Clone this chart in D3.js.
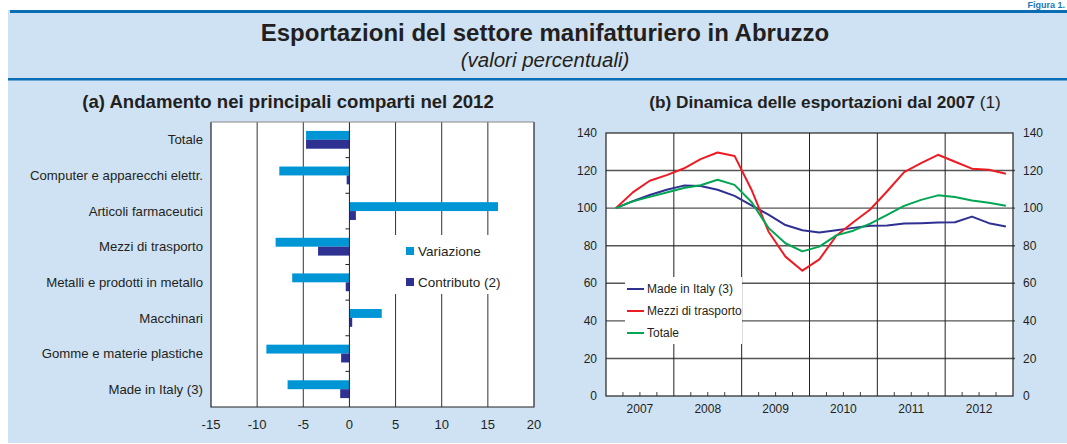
<!DOCTYPE html>
<html><head><meta charset="utf-8">
<script src="https://cdn.jsdelivr.net/npm/d3@7"></script>
<style>body{margin:0;background:#fff}svg{display:block;font-family:"Liberation Sans",Arial,sans-serif}</style>
</head><body><svg id="c" width="1067" height="444"></svg>
<script>
// ---- Data: panel (a) ----
const categories = ["Totale","Computer e apparecchi elettr.","Articoli farmaceutici","Mezzi di trasporto","Metalli e prodotti in metallo","Macchinari","Gomme e materie plastiche","Made in Italy (3)"];
const variazione = [-4.7,-7.6,16.1,-8.0,-6.2,3.5,-9.0,-6.7];
const contributo = [-4.7,-0.3,0.7,-3.4,-0.4,0.3,-0.9,-1.0];
const xTicksA = [-15,-10,-5,0,5,10,15,20];
// ---- Data: panel (b), quarterly 2007Q1-2012Q4 ----
const years = ["2007","2008","2009","2010","2011","2012"];
const madeInItaly = [100,103.7,107,109.8,112,111.8,109.8,106.5,101.5,96.5,91,88.2,87,88.2,89.5,90.6,90.8,91.8,92,92.3,92.5,95.5,92,90.2];
const mezziTrasporto = [100,108.4,114.6,117.6,121.1,126.1,129.6,127.8,109.8,87.6,74.2,66.7,72.7,85.3,92.5,99.3,109,119.2,124,128.4,124.7,121,120.4,118.3];
const totale = [100,103.6,106,108.3,110.7,112.2,115.1,112.4,103.3,89.5,81.3,77,79.5,85.5,88,91.8,96.4,101.2,104.4,106.8,105.9,104.1,102.9,101.3];
const yTicksB = [0,20,40,60,80,100,120,140];
const seriesB = [
  {name:"Made in Italy (3)", values: madeInItaly, color:"#2e3192"},
  {name:"Mezzi di trasporto", values: mezziTrasporto, color:"#ed1c24"},
  {name:"Totale", values: totale, color:"#00a651"}
];

const svg = d3.select("#c");
const txt = "#231f20";
const panel = "#cfe2f3";
const band = "#0b6db3";

// Frame
svg.append("text").attr("x",1065).attr("y",8).attr("text-anchor","end")
  .attr("font-weight","bold").attr("font-size",9).attr("fill","#1b75bb").text("Figura 1.");
svg.append("rect").attr("x",8).attr("y",10).attr("width",1059).attr("height",433).attr("fill",panel);
svg.append("rect").attr("x",10).attr("y",10).attr("width",1057).attr("height",3).attr("fill",band);
svg.append("rect").attr("x",8).attr("y",78).attr("width",1059).attr("height",2.5).attr("fill",band);
svg.append("text").attr("x",545).attr("y",41).attr("text-anchor","middle").attr("font-weight","bold")
  .attr("font-size",24).attr("fill",txt).text("Esportazioni del settore manifatturiero in Abruzzo");
svg.append("text").attr("x",545).attr("y",67).attr("text-anchor","middle").attr("font-style","italic")
  .attr("font-size",20.5).attr("fill",txt).text("(valori percentuali)");

// ---------- Panel (a) ----------
svg.append("text").attr("x",288).attr("y",108).attr("text-anchor","middle").attr("font-weight","bold")
  .attr("font-size",18.6).attr("fill",txt).text("(a) Andamento nei principali comparti nel 2012");

const A = {l:211,r:534,t:122,b:407};
const xA = d3.scaleLinear().domain([-15,20]).range([A.l,A.r]);
const yA = d3.scaleBand().domain(categories).range([A.t,A.b]);
const gA = svg.append("g");
gA.append("rect").attr("x",A.l).attr("y",A.t).attr("width",A.r-A.l).attr("height",A.b-A.t).attr("fill","#fff");
gA.selectAll(".vg").data(xTicksA.filter(d=>d!==0 && d>-15 && d<20)).join("line")
  .attr("x1",d=>xA(d)).attr("x2",d=>xA(d)).attr("y1",A.t).attr("y2",A.b)
  .attr("stroke","#333").attr("stroke-width",1);
// legend background covers gridlines
gA.append("rect").attr("x",352).attr("y",235).attr("width",A.r-352).attr("height",59).attr("fill","#fff");
const bh = yA.bandwidth()*0.25;
gA.selectAll(".bv").data(categories).join("rect")
  .attr("x",(d,i)=>xA(Math.min(0,variazione[i]))).attr("width",(d,i)=>Math.abs(xA(variazione[i])-xA(0)))
  .attr("y",d=>yA(d)+yA.bandwidth()/2-bh).attr("height",bh).attr("fill","#0096d6");
gA.selectAll(".bc").data(categories).join("rect")
  .attr("x",(d,i)=>xA(Math.min(0,contributo[i]))).attr("width",(d,i)=>Math.abs(xA(contributo[i])-xA(0)))
  .attr("y",d=>yA(d)+yA.bandwidth()/2).attr("height",bh).attr("fill","#2e3192");
// zero axis with ticks at category boundaries
gA.append("line").attr("x1",xA(0)).attr("x2",xA(0)).attr("y1",A.t).attr("y2",A.b).attr("stroke","#222").attr("stroke-width",1);
gA.selectAll(".zt").data(categories.slice(1)).join("line")
  .attr("x1",xA(0)-4).attr("x2",xA(0)).attr("y1",d=>yA(d)).attr("y2",d=>yA(d)).attr("stroke","#222");
// border
gA.append("path").attr("d",`M${A.l},${A.t}V${A.b}H${A.r}V${A.t}`).attr("fill","none").attr("stroke","#222").attr("stroke-width",1.2);
gA.append("line").attr("x1",A.l).attr("x2",A.r).attr("y1",A.t).attr("y2",A.t).attr("stroke","#888");
// labels
gA.selectAll(".xl").data(xTicksA).join("text").attr("x",d=>xA(d)).attr("y",429)
  .attr("text-anchor","middle").attr("font-size",13).attr("fill",txt).text(d=>d);
gA.selectAll(".cl").data(categories).join("text").attr("x",203).attr("y",d=>yA(d)+yA.bandwidth()/2)
  .attr("dy","0.35em").attr("text-anchor","end").attr("font-size",13.2).attr("fill",txt).text(d=>d);
// legend
const legA = [{n:"Variazione",c:"#0096d6",y:251},{n:"Contributo (2)",c:"#2e3192",y:282}];
legA.forEach(d=>{
  gA.append("rect").attr("x",406).attr("y",d.y-4).attr("width",8).attr("height",8).attr("fill",d.c);
  gA.append("text").attr("x",418).attr("y",d.y).attr("dy","0.35em").attr("font-size",13.5).attr("fill",txt).text(d.n);
});

// ---------- Panel (b) ----------
const tb = svg.append("text").attr("x",825).attr("y",108).attr("text-anchor","middle").attr("font-size",17.2).attr("fill",txt);
tb.append("tspan").attr("font-weight","bold").text("(b) Dinamica delle esportazioni dal 2007 ");
tb.append("tspan").text("(1)");

const B = {l:606,r:1013,t:133,b:396};
const nQ = years.length*4;
const xB = d3.scaleLinear().domain([0,nQ]).range([B.l,B.r]);
const yB = d3.scaleLinear().domain([0,140]).range([B.b,B.t]);
const gB = svg.append("g");
gB.append("rect").attr("x",B.l).attr("y",B.t).attr("width",B.r-B.l).attr("height",B.b-B.t).attr("fill","#fff");
gB.selectAll(".hg").data(yTicksB.filter(d=>d>0&&d<140)).join("line")
  .attr("x1",B.l).attr("x2",B.r+2).attr("y1",d=>yB(d)).attr("y2",d=>yB(d))
  .attr("stroke","#555").attr("stroke-width",1.4);
gB.selectAll(".yg").data(d3.range(1,years.length)).join("line")
  .attr("x1",d=>xB(d*4)).attr("x2",d=>xB(d*4)).attr("y1",B.t).attr("y2",B.b)
  .attr("stroke","#222").attr("stroke-width",1);
gB.selectAll(".qt").data(d3.range(1,nQ).filter(d=>d%4!==0)).join("line")
  .attr("x1",d=>xB(d)).attr("x2",d=>xB(d)).attr("y1",B.b).attr("y2",B.b-4)
  .attr("stroke","#444").attr("stroke-width",1);
// legend box
gB.append("rect").attr("x",625).attr("y",277).attr("width",117).attr("height",67).attr("fill","#fff");
const line = d3.line().x((d,i)=>xB(i+0.58)).y(d=>yB(d));
gB.selectAll(".ln").data(seriesB).join("path").attr("d",d=>line(d.values))
  .attr("fill","none").attr("stroke",d=>d.color).attr("stroke-width",2).attr("stroke-linejoin","round");
gB.append("rect").attr("x",B.l).attr("y",B.t).attr("width",B.r-B.l).attr("height",B.b-B.t)
  .attr("fill","none").attr("stroke","#222").attr("stroke-width",1.2);
gB.selectAll(".yl").data(yTicksB).join("text").attr("x",597).attr("y",d=>yB(d)).attr("dy","0.35em")
  .attr("text-anchor","end").attr("font-size",12).attr("fill",txt).text(d=>d);
gB.selectAll(".yr").data(yTicksB).join("text").attr("x",1023).attr("y",d=>yB(d)).attr("dy","0.35em")
  .attr("text-anchor","start").attr("font-size",12).attr("fill",txt).text(d=>d);
gB.selectAll(".xl").data(years).join("text").attr("x",(d,i)=>xB(i*4+2)).attr("y",413)
  .attr("text-anchor","middle").attr("font-size",12).attr("fill",txt).text(d=>d);
seriesB.forEach((s,i)=>{
  const y = 289 + i*22;
  gB.append("line").attr("x1",627).attr("x2",644).attr("y1",y).attr("y2",y).attr("stroke",s.color).attr("stroke-width",2);
  gB.append("text").attr("x",647).attr("y",y).attr("dy","0.35em").attr("font-size",12).attr("fill",txt).text(s.name);
});
</script></body></html>
